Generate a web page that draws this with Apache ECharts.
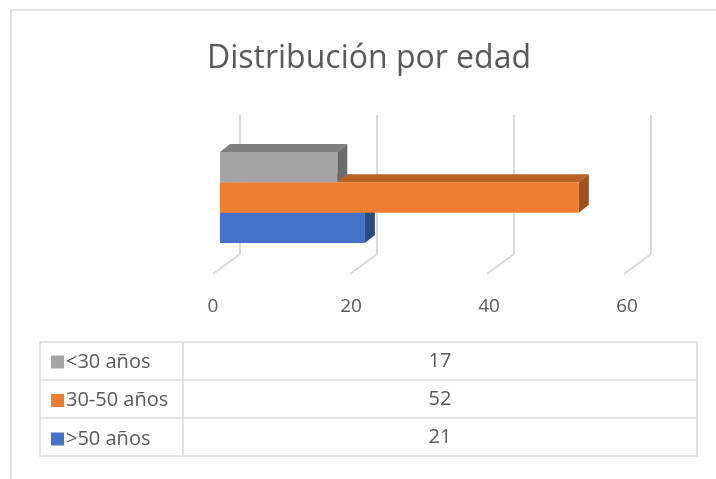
<!DOCTYPE html>
<html>
<head>
<meta charset="utf-8">
<script src="https://cdn.jsdelivr.net/npm/echarts@6/dist/echarts.min.js"></script>
<style>html,body{margin:0;padding:0;background:#fff;}#c{width:716px;height:479px;}</style>
</head>
<body>
<div id="c"></div>
<script>
const titleText = 'Distribución por edad';
const categories = ['<30 años', '30-50 años', '>50 años'];
const values = [17, 52, 21];
const tickValues = [0, 20, 40, 60];

const frontColors = ['#A5A5A5', '#ED7D31', '#4472C4'];
const topColors = ['#7F7F7F', '#BA6126', '#35599A'];
const sideColors = ['#6B6B6B', '#9C511F', '#2B4A80'];
const FONT = 'Open Sans';

const chart = echarts.init(document.getElementById('c'), null, {renderer: 'canvas'});

function barRender(i) {
  return function (params, api) {
    const v = api.value(0), ci = api.value(1);
    const p0 = api.coord([0, ci]), p1 = api.coord([v, ci]);
    const h = api.size([0, 1])[1];
    const x0 = p0[0], x1 = p1[0];
    const yT = p0[1] - h / 2, yB = p0[1] + h / 2;
    const dx = 10, dy = -8;
    return {
      type: 'group',
      children: [
        {type: 'polygon', shape: {points: [[x0, yT], [x1, yT], [x1 + dx, yT + dy], [x0 + dx, yT + dy]]}, style: {fill: topColors[i]}},
        {type: 'polygon', shape: {points: [[x1, yT], [x1 + dx, yT + dy], [x1 + dx, yB + dy], [x1, yB]]}, style: {fill: sideColors[i]}},
        {type: 'rect', shape: {x: x0, y: yT, width: x1 - x0, height: yB - yT}, style: {fill: frontColors[i]}}
      ]
    };
  };
}

const barSeries = categories.map((name, i) => ({
  name: name,
  type: 'custom',
  z: 10 - i,
  itemStyle: {color: frontColors[i]},
  renderItem: barRender(i),
  encode: {x: 0, y: 1},
  data: [[values[i], i]]
}));

const gridSeries = {
  type: 'custom',
  z: 1,
  silent: true,
  renderItem: function (params, api) {
    const v = api.value(0);
    const cs = params.coordSys;
    const fx = api.coord([v, 0])[0];
    const bx = fx + 20 - v / 20;
    const top = cs.y - 37, bot = cs.y + cs.height + 11, fy = cs.y + cs.height + 31;
    return {
      type: 'polyline',
      shape: {points: [[bx, top], [bx, bot], [bx - 27, fy]]},
      style: {stroke: '#D9D9D9', lineWidth: 2, fill: null}
    };
  },
  encode: {x: 0},
  data: tickValues.map(v => [v, 0])
};

// data table
const tX = 40, tY = 342, tW = 657, rowH = 38, colX = 183;
const tableGraphics = [
  {type: 'rect', shape: {x: tX, y: tY, width: tW, height: rowH * categories.length}, style: {fill: null, stroke: '#D9D9D9', lineWidth: 1.5}},
  {type: 'line', shape: {x1: colX, y1: tY, x2: colX, y2: tY + rowH * categories.length}, style: {stroke: '#D9D9D9', lineWidth: 1.5}}
];
categories.forEach((c, i) => {
  if (i > 0) tableGraphics.push({type: 'line', shape: {x1: tX, y1: tY + rowH * i, x2: tX + tW, y2: tY + rowH * i}, style: {stroke: '#D9D9D9', lineWidth: 1.5}});
  tableGraphics.push({type: 'text', x: (colX + tX + tW) / 2, y: tY + rowH * i + rowH / 2,
    style: {text: String(values[i]), font: '20px "' + FONT + '"', fill: '#595959', textAlign: 'center', textVerticalAlign: 'middle'}});
});
tableGraphics.push({type: 'rect', shape: {x: 11, y: 10, width: 720, height: 480}, style: {fill: null, stroke: '#D9D9D9', lineWidth: 1.5}, silent: true});

chart.setOption({
  animation: false,
  title: {
    text: titleText, left: 364, top: 38, textAlign: 'center',
    textStyle: {fontFamily: FONT, fontSize: 32, fontWeight: 'normal', color: '#595959'}
  },
  legend: {
    orient: 'vertical', left: 46, top: 345,
    data: categories, icon: 'rect', itemWidth: 13, itemHeight: 13, itemGap: 14.5,
    selectedMode: false,
    textStyle: {fontFamily: FONT, fontSize: 20, lineHeight: 24, color: '#595959', padding: [0, 0, 0, -3]}
  },
  grid: {left: 220, width: 414, top: 152, height: 91},
  xAxis: {
    type: 'value', min: 0, max: 60, interval: 20,
    axisLine: {show: false}, axisTick: {show: false}, splitLine: {show: false},
    axisLabel: {margin: 54, fontFamily: FONT, fontSize: 19, color: '#595959', padding: [0, 14, 0, 0]}
  },
  yAxis: {
    type: 'category', data: categories, inverse: true,
    axisLine: {show: false}, axisTick: {show: false}, axisLabel: {show: false}, splitLine: {show: false}
  },
  graphic: tableGraphics,
  series: [gridSeries].concat(barSeries)
});
</script>
</body>
</html>
